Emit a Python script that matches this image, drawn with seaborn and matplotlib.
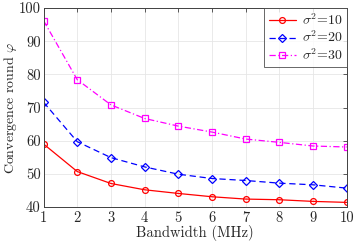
import pandas as pd
import matplotlib
matplotlib.use('Agg')
import matplotlib.pyplot as plt
import seaborn as sns

# Values
bandwidth = [1, 2, 3, 4, 5, 6, 7, 8, 9, 10]
sigma10 = [59.0, 50.7, 47.1, 45.2, 44.1, 43.1, 42.4, 42.2, 41.7, 41.4]
sigma20 = [71.6, 59.7, 54.9, 52.1, 49.9, 48.6, 48.0, 47.2, 46.7, 45.7]
sigma30 = [96.2, 78.4, 70.8, 66.7, 64.4, 62.6, 60.5, 59.5, 58.4, 58.1]
labels = [r'$\sigma^2$=10', r'$\sigma^2$=20', r'$\sigma^2$=30']

sns.set_style('whitegrid')
plt.rcParams['font.family'] = ['cmr10', 'DejaVu Serif']
plt.rcParams['mathtext.fontset'] = 'cm'
plt.rcParams['axes.unicode_minus'] = False

fig = plt.figure(figsize=(3.6, 2.43), dpi=100)
ax = fig.add_axes([0.121, 0.148, 0.842, 0.819])

styles = [
    (sigma10, 'red', '-', 'o', 4.2),
    (sigma20, 'blue', (0, (5, 3)), 'D', 3.6),
    (sigma30, 'magenta', (0, (5, 2, 1, 2)), 's', 4.0),
]
for (vals, color, ls, mk, ms), lab in zip(styles, labels):
    df = pd.DataFrame({'bw': bandwidth, 'rounds': vals})
    sns.lineplot(data=df, x='bw', y='rounds', ax=ax, color=color, linestyle=ls,
                 linewidth=0.9, marker=mk, markersize=ms,
                 markerfacecolor='none', markeredgecolor=color, markeredgewidth=0.9,
                 label=lab)

ax.set_xlim(1, 10)
ax.set_ylim(40, 100)
ax.set_xticks(bandwidth)
ax.set_yticks(range(40, 101, 10))
ax.grid(True, color='#e6e6e6', linewidth=0.6)
for s in ax.spines.values():
    s.set_color('#404040')
    s.set_linewidth(0.7)
ax.tick_params(direction='in', length=3, width=0.6, color='#404040',
               labelsize=10.5, top=True, right=True, labelcolor='#262626')
ax.tick_params(axis='x', pad=3)
ax.tick_params(axis='y', pad=2)
ax.set_xlabel('Bandwidth (MHz)', fontsize=10.5, color='#262626')
ax.set_ylabel(r'Convergence round $\varphi$', fontsize=10, color='#262626')
ax.xaxis.set_label_coords(0.5, -0.088)
ax.yaxis.set_label_coords(-0.08, 0.5)

leg = ax.legend(loc='upper right', fontsize=10, frameon=True, fancybox=False,
                borderaxespad=0, handlelength=2.0, handletextpad=0.4,
                labelspacing=0.15, borderpad=0.3)
leg.get_frame().set_edgecolor('#404040')
leg.get_frame().set_linewidth(0.7)

plt.savefig('out.png', dpi=100)
